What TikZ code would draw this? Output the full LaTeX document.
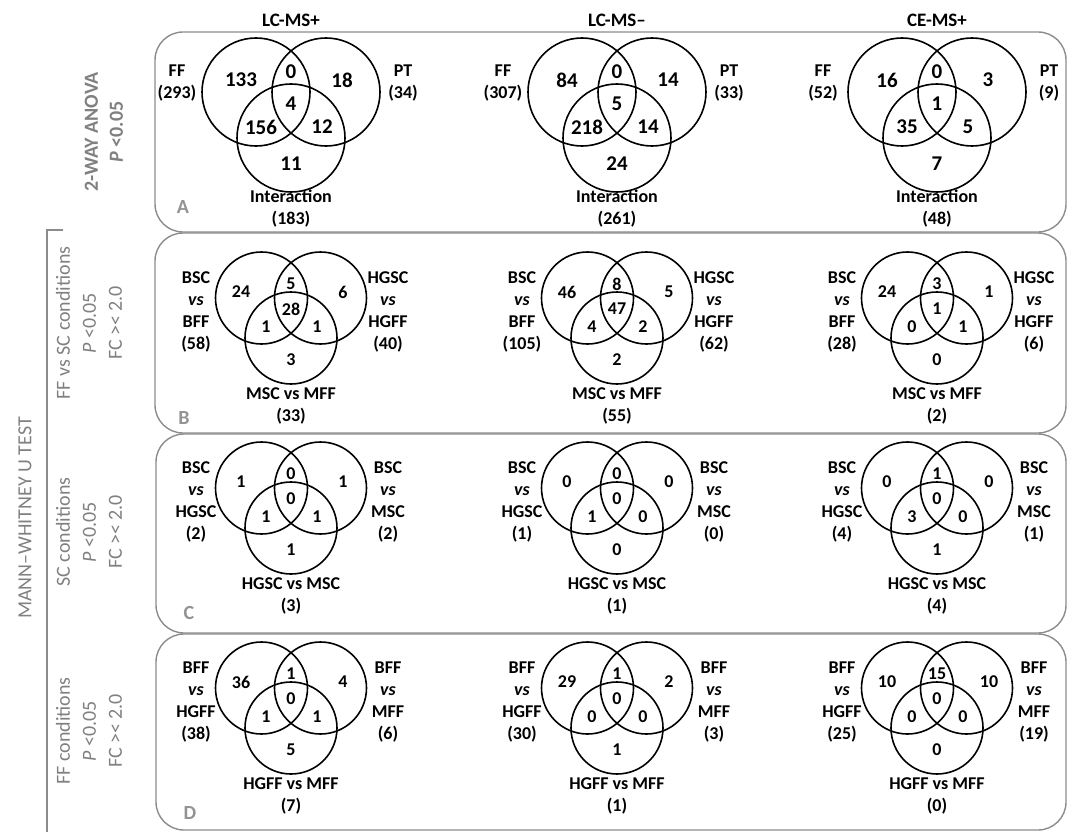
\documentclass[tikz,border=0pt]{standalone}
\usepackage{fontspec}
\setmainfont{Carlito}
\usetikzlibrary{calc}
\definecolor{lblgray}{RGB}{128,128,128}
\definecolor{panelgray}{RGB}{140,140,140}

% three-set Venn, row A (larger circles)
\newcommand\vennbig[9]{%
  \begin{scope}[shift={(#2)}]
    \coordinate (#1) at (0,0);
    \node[ring, minimum size=108pt] (#1-l) at (-35,0) {};
    \node[ring, minimum size=108pt] (#1-r) at (35,0) {};
    \node[ring, minimum size=108pt] (#1-b) at (0,46) {};
    \node[big num] (#1-n1) at (-50,-12) {#3};
    \node[big num] (#1-n2) at (0,-20) {#4};
    \node[big num] (#1-n3) at (51,-12) {#5};
    \node[big num] (#1-n4) at (0,12) {#6};
    \node[big num] (#1-n5) at (-30,35) {#7};
    \node[big num] (#1-n6) at (31,35) {#8};
    \node[big num] (#1-n7) at (0,72) {#9};
  \end{scope}}

% three-set Venn, rows B to D
\newcommand\vennsmall[9]{%
  \begin{scope}[shift={(#2)}]
    \coordinate (#1) at (0,0);
    \node[ring, minimum size=92pt] (#1-l) at (-29.5,0) {};
    \node[ring, minimum size=92pt] (#1-r) at (29.5,0) {};
    \node[ring, minimum size=92pt] (#1-b) at (0,40) {};
    \node[num] (#1-n1) at (-50,-6) {#3};
    \node[num] (#1-n2) at (0,-14) {#4};
    \node[num] (#1-n3) at (52,-6) {#5};
    \node[num] (#1-n4) at (0,11) {#6};
    \node[num] (#1-n5) at (-25,29) {#7};
    \node[num] (#1-n6) at (26,29) {#8};
    \node[num] (#1-n7) at (0,62) {#9};
  \end{scope}}

\begin{document}
\begin{tikzpicture}[
  x=1pt, y=-1pt,
  ring/.style     = {circle, draw=black, line width=1.6pt, inner sep=0pt, outer sep=0pt},
  big num/.style  = {font=\fontsize{21}{24}\selectfont\bfseries, inner sep=0pt},
  num/.style      = {font=\fontsize{18}{22}\selectfont\bfseries, inner sep=0pt},
  setlbl/.style   = {font=\fontsize{18}{22}\selectfont\bfseries, align=center, inner sep=0pt},
  head/.style     = {font=\fontsize{19}{22}\selectfont\bfseries, inner sep=0pt},
  panel/.style    = {draw=panelgray, line width=1.4pt, rounded corners=28pt},
  tag/.style      = {font=\fontsize{20}{24}\selectfont\bfseries, text=lblgray!85, inner sep=0pt},
  side/.style     = {font=\fontsize{20}{26}\selectfont, text=lblgray, align=center, rotate=90, inner sep=0pt},
  bracket/.style  = {draw=panelgray, line width=1.4pt},
]
\useasboundingbox (0,0) rectangle (1073,832);

% panels
\draw[panel] (155,32) rectangle (1066,232);
\draw[panel] (155,233) rectangle (1066,433);
\draw[panel] (156,434) rectangle (1066,633);
\draw[panel] (156,634) rectangle (1066,830);

\node[tag] (tagA) at (183,207) {A};
\node[tag] (tagB) at (184,418) {B};
\node[tag] (tagC) at (189,613) {C};
\node[tag] (tagD) at (190,813) {D};

% column heads
\node[head] (lcpos) at (291,20) {LC-MS+};
\node[head] (lcneg) at (617,20) {LC-MS–};
\node[head] (cepos) at (937,20) {CE-MS+};

% row titles
\node[side, font=\fontsize{20}{25}\selectfont\bfseries] (anova) at (104,132)
  {2-WAY ANOVA\\\textit{P} <0.05};
\node[side] (rowB) at (89,323) {FF vs SC conditions\\\textit{P} <0.05\\FC >< 2.0};
\node[side] (rowC) at (89,532) {SC conditions\\\textit{P} <0.05\\FC >< 2.0};
\node[side] (rowD) at (89,731) {FF conditions\\\textit{P} <0.05\\FC >< 2.0};
\node[side] (mwu) at (25,518) {MANN–WHITNEY U TEST};

\coordinate (brtick) at (63,230);
\coordinate (brtop) at (47,230);
\coordinate (brbot) at (47,832);
\draw[bracket] (brtick) -- (brtop) -- (brbot);

% row A
\vennbig{A1}{291,92}{133}{0}{18}{4}{156}{12}{11}
\vennbig{A2}{617,92}{84}{0}{14}{5}{218}{14}{24}
\vennbig{A3}{937,92}{16}{0}{3}{1}{35}{5}{7}

\node[setlbl] (A1-fl) at ($(A1)+(-114,-9)$) {FF\\(293)};
\node[setlbl] (A1-pl) at ($(A1)+(112,-9)$) {PT\\(34)};
\node[setlbl] (A1-il) at ($(A1)+(0,117)$) {Interaction\\(183)};
\node[setlbl] (A2-fl) at ($(A2)+(-114,-9)$) {FF\\(307)};
\node[setlbl] (A2-pl) at ($(A2)+(112,-9)$) {PT\\(33)};
\node[setlbl] (A2-il) at ($(A2)+(0,117)$) {Interaction\\(261)};
\node[setlbl] (A3-fl) at ($(A3)+(-114,-9)$) {FF\\(52)};
\node[setlbl] (A3-pl) at ($(A3)+(112,-9)$) {PT\\(9)};
\node[setlbl] (A3-il) at ($(A3)+(0,117)$) {Interaction\\(48)};

% row B
\vennsmall{B1}{291,298}{24}{5}{6}{28}{1}{1}{3}
\vennsmall{B2}{617,298}{46}{8}{5}{47}{4}{2}{2}
\vennsmall{B3}{937,298}{24}{3}{1}{1}{0}{1}{0}

\node[setlbl] (B1-ll) at ($(B1)+(-95,14)$) {BSC\\\textit{vs}\\BFF\\(58)};
\node[setlbl] (B1-rl) at ($(B1)+(97,14)$) {HGSC\\\textit{vs}\\HGFF\\(40)};
\node[setlbl] (B1-bl) at ($(B1)+(0,108)$) {MSC vs MFF\\(33)};
\node[setlbl] (B2-ll) at ($(B2)+(-95,14)$) {BSC\\\textit{vs}\\BFF\\(105)};
\node[setlbl] (B2-rl) at ($(B2)+(97,14)$) {HGSC\\\textit{vs}\\HGFF\\(62)};
\node[setlbl] (B2-bl) at ($(B2)+(0,108)$) {MSC vs MFF\\(55)};
\node[setlbl] (B3-ll) at ($(B3)+(-95,14)$) {BSC\\\textit{vs}\\BFF\\(28)};
\node[setlbl] (B3-rl) at ($(B3)+(97,14)$) {HGSC\\\textit{vs}\\HGFF\\(6)};
\node[setlbl] (B3-bl) at ($(B3)+(0,108)$) {MSC vs MFF\\(2)};

% row C
\vennsmall{C1}{291,488}{1}{0}{1}{0}{1}{1}{1}
\vennsmall{C2}{617,488}{0}{0}{0}{0}{1}{0}{0}
\vennsmall{C3}{937,488}{0}{1}{0}{0}{3}{0}{1}

\node[setlbl] (C1-ll) at ($(C1)+(-95,14)$) {BSC\\\textit{vs}\\HGSC\\(2)};
\node[setlbl] (C1-rl) at ($(C1)+(97,14)$) {BSC\\\textit{vs}\\MSC\\(2)};
\node[setlbl] (C1-bl) at ($(C1)+(0,108)$) {HGSC vs MSC\\(3)};
\node[setlbl] (C2-ll) at ($(C2)+(-95,14)$) {BSC\\\textit{vs}\\HGSC\\(1)};
\node[setlbl] (C2-rl) at ($(C2)+(97,14)$) {BSC\\\textit{vs}\\MSC\\(0)};
\node[setlbl] (C2-bl) at ($(C2)+(0,108)$) {HGSC vs MSC\\(1)};
\node[setlbl] (C3-ll) at ($(C3)+(-95,14)$) {BSC\\\textit{vs}\\HGSC\\(4)};
\node[setlbl] (C3-rl) at ($(C3)+(97,14)$) {BSC\\\textit{vs}\\MSC\\(1)};
\node[setlbl] (C3-bl) at ($(C3)+(0,108)$) {HGSC vs MSC\\(4)};

% row D
\vennsmall{D1}{291,688}{36}{1}{4}{0}{1}{1}{5}
\vennsmall{D2}{617,688}{29}{1}{2}{0}{0}{0}{1}
\vennsmall{D3}{937,688}{10}{15}{10}{0}{0}{0}{0}

\node[setlbl] (D1-ll) at ($(D1)+(-95,14)$) {BFF\\\textit{vs}\\HGFF\\(38)};
\node[setlbl] (D1-rl) at ($(D1)+(97,14)$) {BFF\\\textit{vs}\\MFF\\(6)};
\node[setlbl] (D1-bl) at ($(D1)+(0,108)$) {HGFF vs MFF\\(7)};
\node[setlbl] (D2-ll) at ($(D2)+(-95,14)$) {BFF\\\textit{vs}\\HGFF\\(30)};
\node[setlbl] (D2-rl) at ($(D2)+(97,14)$) {BFF\\\textit{vs}\\MFF\\(3)};
\node[setlbl] (D2-bl) at ($(D2)+(0,108)$) {HGFF vs MFF\\(1)};
\node[setlbl] (D3-ll) at ($(D3)+(-95,14)$) {BFF\\\textit{vs}\\HGFF\\(25)};
\node[setlbl] (D3-rl) at ($(D3)+(97,14)$) {BFF\\\textit{vs}\\MFF\\(19)};
\node[setlbl] (D3-bl) at ($(D3)+(0,108)$) {HGFF vs MFF\\(0)};

\end{tikzpicture}
\end{document}
